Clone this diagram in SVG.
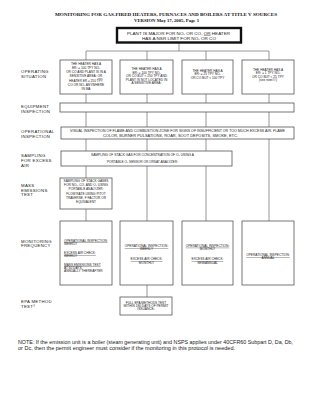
<svg xmlns="http://www.w3.org/2000/svg" width="309" height="400" viewBox="0 0 309 400">
<style>
.bg{fill:#fff}
.box{fill:#fff;stroke:#555;stroke-width:0.8}
.thick{fill:#fff;stroke:#111;stroke-width:2.4}
.con{stroke:#8a8a8a;stroke-width:0.9;fill:none}
.title{font-family:"Liberation Serif",serif;font-weight:bold;font-size:4.6px;fill:#111;text-anchor:middle}
.lbl{font-family:"Liberation Sans",Arial,sans-serif;font-size:4.3px;letter-spacing:0.3px;fill:#222}
.t{font-family:"Liberation Sans",Arial,sans-serif;font-size:3.2px;fill:#222;text-anchor:middle}
.tl{font-family:"Liberation Sans",Arial,sans-serif;font-size:3.2px;fill:#222}
.tm{font-family:"Liberation Sans",Arial,sans-serif;font-size:3.6px;fill:#222;text-anchor:middle}
.note{font-family:"Liberation Sans",Arial,sans-serif;font-size:4.6px;fill:#222}
.u{text-decoration:underline}
</style>
<rect class="bg" x="0" y="0" width="309" height="400"/>

<g id="title">
<text class="title" x="166" y="16" textLength="222" lengthAdjust="spacingAndGlyphs">MONITORING FOR GAS-FIRED HEATERS, FURNACES AND BOILERS AT TITLE V SOURCES</text>
<text class="title" x="166.5" y="21.7" textLength="65" lengthAdjust="spacingAndGlyphs">VERSION May 17, 2005, Page 1</text>
</g>

<g id="labels">
<text class="lbl" x="21" y="72.5">OPERATING</text>
<text class="lbl" x="21" y="77.5">SITUATION</text>
<text class="lbl" x="21" y="108">EQUIPMENT</text>
<text class="lbl" x="21" y="113">INSPECTION</text>
<text class="lbl" x="21" y="133">OPERATIONAL</text>
<text class="lbl" x="21" y="138">INSPECTION</text>
<text class="lbl" x="21" y="156.5">SAMPLING</text>
<text class="lbl" x="21" y="161.5">FOR EXCESS</text>
<text class="lbl" x="21" y="166.5">AIR</text>
<text class="lbl" x="21" y="187">MASS</text>
<text class="lbl" x="21" y="191.7">EMISSIONS</text>
<text class="lbl" x="21" y="196.4">TEST</text>
<text class="lbl" x="21" y="242.5">MONITORING</text>
<text class="lbl" x="21" y="247.3">FREQUENCY</text>
<text class="lbl" x="21" y="302.5">EPA METHOD</text>
<text class="lbl" x="21" y="307.5">TEST³</text>
</g>

<g id="connectors">
<path class="con" d="M179 43V51M86 51H269M86 51V60M147 51V60M206 51V60M269 51V60"/>
<path class="con" d="M86 94V103M147 94V103M206 94V103M269 94V103"/>
<path class="con" d="M86 112V127M147 112V127M206 112V127M269 112V127"/>
<path class="con" d="M86 139V151M147 139V151M206 139V151M269 139V221"/>
<path class="con" d="M86 166V178M147 166V221M206 166V221"/>
<path class="con" d="M86 209V221"/>
<path class="con" d="M147 285V297"/>
</g>

<g id="plant">
<rect class="thick" x="117" y="28" width="124" height="14.5"/>
<text class="tm" x="178.5" y="34.6" textLength="103" lengthAdjust="spacingAndGlyphs">PLANT IS MAJOR FOR NOₓ OR CO, <tspan class="u">OR</tspan> HEATER</text>
<text class="tm" x="179" y="40.2" textLength="74" lengthAdjust="spacingAndGlyphs">HAS A NSR LIMIT FOR NOₓ OR CO</text>
</g>

<g id="situation1">
<rect class="box" x="60" y="60" width="52" height="34"/>
<text class="t" x="86" y="64.6">THE HEATER HAS A</text>
<text class="t" x="86" y="68.9">ER¹ ≥ 100 TPY NOₓ</text>
<text class="t" x="86" y="73.1">OR CO AND PLANT IS IN A</text>
<text class="t" x="86" y="77.4">SENSITIVE AREA¹ <tspan class="u">OR</tspan></text>
<text class="t" x="86" y="81.6">HEATER ER ≥ 250 TPY</text>
<text class="t" x="86" y="85.9">CO OR NOₓ ANYWHERE</text>
<text class="t" x="86" y="90.1">IN MA</text>
</g>

<g id="situation2">
<rect class="box" x="120" y="60" width="53" height="34"/>
<text class="t" x="146.5" y="70">THE HEATER HAS A</text>
<text class="t" x="146.5" y="73.5">ER¹ ≥ 100 TPY NOₓ</text>
<text class="t" x="146.5" y="77">OR CO BUT &lt; 250 TPY AND</text>
<text class="t" x="146.5" y="80.5">PLANT IS NOT LOCATED IN</text>
<text class="t" x="146.5" y="84">A SENSITIVE AREA¹</text>
</g>

<g id="situation3">
<rect class="box" x="182" y="60" width="51" height="34"/>
<text class="t" x="207.5" y="72">THE HEATER HAS A</text>
<text class="t" x="207.5" y="75.4">ER¹ ≥ 25 TPY NOₓ</text>
<text class="t" x="207.5" y="78.8">OR CO BUT &lt; 100 TPY</text>
</g>

<g id="situation4">
<rect class="box" x="242" y="60" width="52" height="34"/>
<text class="t" x="268" y="71">THE HEATER HAS A</text>
<text class="t" x="268" y="74.4">ER¹ ≥ 1 TPY NOₓ</text>
<text class="t" x="268" y="77.8">OR CO BUT &lt; 25 TPY</text>
<text class="t" x="268" y="81.3">(see note##)</text>
</g>

<g id="equipment">
<rect class="box" x="60" y="103" width="234" height="9"/>
</g>

<g id="operational">
<rect class="box" x="61" y="127" width="233" height="12"/>
<text class="t" x="177.5" y="132.2" textLength="215" lengthAdjust="spacingAndGlyphs">VISUAL INSPECTION OF FLAME AND COMBUSTION ZONE FOR SIGNS OF INSUFFICIENT OR TOO MUCH EXCESS AIR.  FLAME</text>
<text class="t" x="170.5" y="136.6" textLength="135" lengthAdjust="spacingAndGlyphs">COLOR, BURNER PULSATIONS, ROAR, SOOT DEPOSITS, SMOKE, ETC.</text>
</g>

<g id="sampling">
<rect class="box" x="61" y="151" width="171" height="15"/>
<text class="t" x="142.5" y="156.2" textLength="103" lengthAdjust="spacingAndGlyphs">SAMPLING OF STACK GAS FOR CONCENTRATION OF O₂ USING A</text>
<text class="t" x="142.5" y="163" textLength="71" lengthAdjust="spacingAndGlyphs">PORTABLE O₂ SENSOR OR ORSAT ANALYZER²</text>
</g>

<g id="massemissions">
<rect class="box" x="60" y="178" width="52" height="31"/>
<text class="t" x="86" y="182">SAMPLING OF STACK GASES</text>
<text class="t" x="86" y="186">FOR NOₓ, CO, AND O₂ USING</text>
<text class="t" x="86" y="190">PORTABLE ANALYZER;</text>
<text class="t" x="86" y="195">FLOW RATE USING PITOT</text>
<text class="t" x="86" y="199">TRAVERSE, F FACTOR OR</text>
<text class="t" x="86" y="203">EQUIVALENT</text>
</g>

<g id="frequency1">
<rect class="box" x="60" y="221" width="52" height="64"/>
<text class="tl" x="64" y="241.5"><tspan class="u">OPERATIONAL INSPECTION:</tspan></text>
<text class="tl" x="64" y="244.8">WEEKLY</text>
<text class="tl" x="64" y="254"><tspan class="u">EXCESS AIR CHECK:</tspan></text>
<text class="tl" x="64" y="257.3">WEEKLY</text>
<text class="tl" x="64" y="265.5"><tspan class="u">MASS EMISSIONS TEST</tspan></text>
<text class="tl" x="64" y="268.8">AT 60 DAYS,</text>
<text class="tl" x="64" y="272.1">ANNUALLY THEREAFTER</text>
</g>

<g id="frequency2">
<rect class="box" x="120" y="221" width="53" height="64"/>
<text class="t" x="146.5" y="247"><tspan class="u">OPERATIONAL INSPECTION:</tspan></text>
<text class="t" x="146.5" y="250.3">WEEKLY</text>
<text class="t" x="146.5" y="260.3"><tspan class="u">EXCESS AIR CHECK:</tspan></text>
<text class="t" x="146.5" y="263.6">MONTHLY</text>
</g>

<g id="frequency3">
<rect class="box" x="182" y="221" width="51" height="64"/>
<text class="t" x="207.5" y="246.8"><tspan class="u">OPERATIONAL INSPECTION:</tspan></text>
<text class="t" x="207.5" y="250.1">MONTHLY</text>
<text class="t" x="207.5" y="260.3"><tspan class="u">EXCESS AIR CHECK:</tspan></text>
<text class="t" x="207.5" y="263.6">SEMIANNUAL</text>
</g>

<g id="frequency4">
<rect class="box" x="242" y="221" width="52" height="64"/>
<text class="t" x="268" y="256"><tspan class="u">OPERATIONAL INSPECTION:</tspan></text>
<text class="t" x="268" y="259.3">ANNUAL</text>
</g>

<g id="epatest">
<rect class="box" x="120" y="297" width="52" height="18"/>
<text class="t" x="146" y="303.5">FULL EPA METHODS TEST</text>
<text class="t" x="146" y="306.8">WITHIN 180 DAYS OF PERMIT</text>
<text class="t" x="146" y="310.1">ISSUANCE³</text>
</g>

<g id="note">
<text class="note" x="18" y="344.3" textLength="275" lengthAdjust="spacingAndGlyphs">NOTE: If the emission unit is a boiler (steam generating unit) and  NSPS applies under 40CFR60 Subpart D, Da, Db,</text>
<text class="note" x="18" y="350.3" textLength="217" lengthAdjust="spacingAndGlyphs">or Dc, then the permit engineer must consider if the monitoring in this protocol is needed.</text>
</g>
</svg>
